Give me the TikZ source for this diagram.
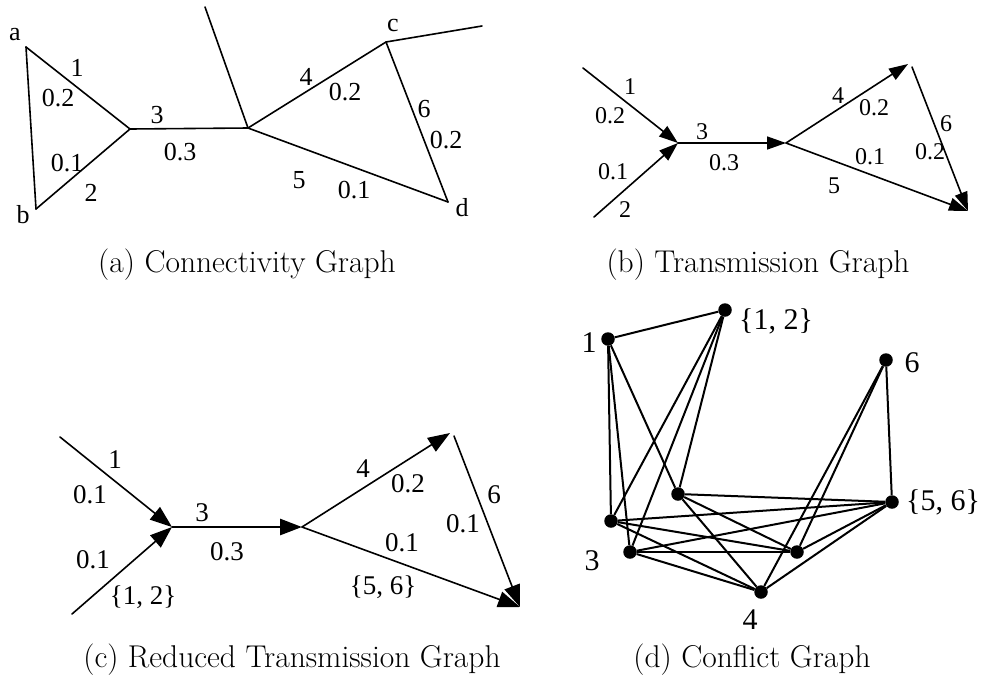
\documentclass[tikz,border=0pt]{standalone}
\usepackage{fontspec}
\newfontfamily\tms{Liberation Serif}
\usetikzlibrary{arrows.meta}
\begin{document}
\begin{tikzpicture}[x=1pt,y=-1pt,
  edge/.style={line width=1.6pt, line cap=round, line join=round},
  thick3/.style={line width=2.8pt},
  arrb/.style={-{Triangle[length=19pt,width=13pt]}},
  arrc/.style={-{Triangle[length=22pt,width=16pt]}},
  lba/.style={font=\tms\fontsize{26}{26}\selectfont, inner sep=0pt},
  lbb/.style={font=\tms\fontsize{24}{24}\selectfont, inner sep=0pt},
  lbc/.style={font=\tms\fontsize{27}{27}\selectfont, inner sep=0pt},
  lbd/.style={font=\tms\fontsize{30}{30}\selectfont, inner sep=0pt},
  captext/.style={font=\fontsize{31.5}{34}\selectfont, inner sep=0pt},
  vdot/.style={circle, fill=black, inner sep=0pt, minimum size=13.5pt},
  gedge/.style={line width=2pt}]
\useasboundingbox (0,0) rectangle (987,681);

% ---------- (a) Connectivity Graph ----------
\coordinate (a) at (26,47);
\coordinate (b) at (36,209);
\coordinate (ja) at (130,129);
\coordinate (jb) at (248,128);
\coordinate (tp) at (205,7);
\coordinate (c) at (386,42);
\coordinate (cr) at (482,26);
\coordinate (d) at (448,202);
\draw[edge] (a) -- (b);
\draw[edge] (a) -- (ja);
\draw[edge] (b) -- (ja);
\draw[edge] (ja) -- (jb);
\draw[edge] (tp) -- (jb);
\draw[edge] (jb) -- (c);
\draw[edge] (c) -- (cr);
\draw[edge] (c) -- (d);
\draw[edge] (jb) -- (d);
\node[lba] (la) at (15,35) {a};
\node[lba] (lb) at (23,215) {b};
\node[lba] (lc) at (393,25) {c};
\node[lba] (ld) at (462,208) {d};
\node[lba] (a1) at (77,68) {1};
\node[lba] (a02) at (58,98) {0.2};
\node[lba] (a3) at (157,115) {3};
\node[lba] (a03) at (180,152) {0.3};
\node[lba] (a01) at (67,163) {0.1};
\node[lba] (a2) at (91,193) {2};
\node[lba] (a4) at (306,77) {4};
\node[lba] (a02b) at (345,92) {0.2};
\node[lba] (a6) at (424,109) {6};
\node[lba] (a02c) at (446,140) {0.2};
\node[lba] (a5) at (299,180) {5};
\node[lba] (a01b) at (354,190) {0.1};
\node[captext] (capa) at (247,265) {(a) Connectivity Graph};

% ---------- (b) Transmission Graph ----------
\coordinate (bs1) at (583,68);
\coordinate (bs2) at (594,217);
\coordinate (bj1) at (678,143);
\coordinate (bj2) at (786,143);
\coordinate (bt4) at (908,64);
\coordinate (bt6) at (912,67);
\coordinate (be) at (968,211);
\draw[edge,arrb] (bs1) -- (bj1);
\draw[edge,arrb] (bs2) -- (bj1);
\draw[edge,arrb] (bj1) -- (bj2);
\draw[edge,arrb] (bj2) -- (bt4);
\draw[edge,arrb] (bt6) -- (be);
\draw[edge,arrb] (bj2) -- (be);
\node[lbb] (b1) at (630,87) {1};
\node[lbb] (b02) at (610,116) {0.2};
\node[lbb] (b3) at (702,132) {3};
\node[lbb] (b03) at (724,163) {0.3};
\node[lbb] (b01) at (613,172) {0.1};
\node[lbb] (b2) at (625,210) {2};
\node[lbb] (b4) at (838,96) {4};
\node[lbb] (b02b) at (874,108) {0.2};
\node[lbb] (b6) at (946,124) {6};
\node[lbb] (b02c) at (930,152) {0.2};
\node[lbb] (b01b) at (870,157) {0.1};
\node[lbb] (b5) at (834,186) {5};
\node[captext] (capb) at (758,265) {(b) Transmission Graph};

% ---------- (c) Reduced Transmission Graph ----------
\coordinate (cs1) at (60,437);
\coordinate (cs2) at (72,614);
\coordinate (cj1) at (172,527);
\coordinate (cj2) at (302,527);
\coordinate (ct4) at (450,433);
\coordinate (ct6) at (454,436);
\coordinate (ce) at (520,607);
\draw[edge,arrc] (cs1) -- (cj1);
\draw[edge,arrc] (cs2) -- (cj1);
\draw[thick3,arrc] (cj1) -- (cj2);
\draw[edge,arrc] (cj2) -- (ct4);
\draw[edge,arrc] (ct6) -- (ce);
\draw[edge,arrc] (cj2) -- (ce);
\node[lbc] (c1) at (115,460) {1};
\node[lbc] (c01) at (90,495) {0.1};
\node[lbc] (c3) at (202,513) {3};
\node[lbc] (c03) at (227,552) {0.3};
\node[lbc] (c01b) at (93,560) {0.1};
\node[lbc] (c12) at (143,597) {\{1, 2\}};
\node[lbc] (c4) at (363,469) {4};
\node[lbc] (c02) at (408,484) {0.2};
\node[lbc] (c6) at (494,495) {6};
\node[lbc] (c01c) at (463,524) {0.1};
\node[lbc] (c01d) at (402,543) {0.1};
\node[lbc] (c56) at (383,587) {\{5, 6\}};
\node[captext] (capc) at (292,660) {(c) Reduced Transmission Graph};

% ---------- (d) Conflict Graph ----------
\node[vdot] (n1) at (608,339) {};
\node[vdot] (n12) at (725,310) {};
\node[vdot] (n6) at (886,360) {};
\node[vdot] (n56) at (892,502) {};
\node[vdot] (ni) at (678,494) {};
\node[vdot] (nA) at (611,521) {};
\node[vdot] (nB) at (630,552) {};
\node[vdot] (nC) at (797,552) {};
\node[vdot] (n4) at (761,592) {};
\foreach \u/\v in {n1/n12,n1/nA,n1/nB,n1/ni,n12/nA,n12/nB,n12/ni,
  n6/n56,n6/nC,n6/n4,n56/ni,n56/nA,n56/nB,n56/nC,n56/n4,
  nA/nC,nA/n4,nB/nC,nB/n4,ni/nC,ni/n4}
  \draw[gedge] (\u) -- (\v);
\node[lbd] (d1) at (589,343) {1};
\node[lbd] (d12) at (776,321) {\{1, 2\}};
\node[lbd] (d6) at (912,363) {6};
\node[lbd] (d56) at (943,502) {\{5, 6\}};
\node[lbd] (d3) at (592,561) {3};
\node[lbd] (d4) at (750,620) {4};
\node[captext] (capd) at (752,660) {(d) Conflict Graph};
\end{tikzpicture}
\end{document}
